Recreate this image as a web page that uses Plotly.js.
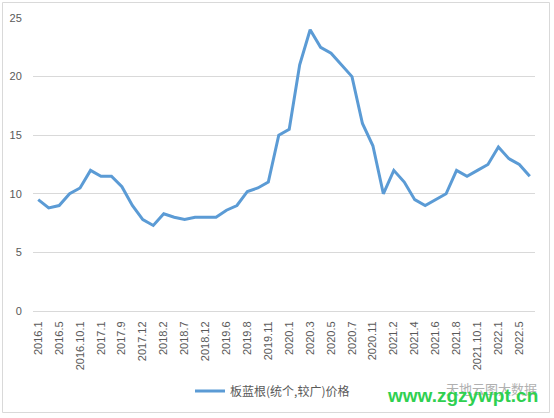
<!DOCTYPE html>
<html>
<head>
<meta charset="utf-8">
<script src="https://cdn.plot.ly/plotly-3.0.1.min.js"></script>
<style>html,body{margin:0;padding:0;background:#fff;}#chart{width:554px;height:418px;}</style>
</head>
<body>
<div id="chart"></div>
<script>
// Categories (every other one is labelled on the axis, as in the reference)
const months = [
  "2016.1","2016.3","2016.5","2016.8","2016.10.1","2016.12","2017.1","2017.5",
  "2017.9","2017.11","2017.12","2018.1","2018.2","2018.5","2018.7","2018.10",
  "2018.12","2019.3","2019.6","2019.7","2019.8","2019.10","2019.11","2019.12",
  "2020.1","2020.2","2020.3","2020.4","2020.5","2020.6","2020.7","2020.9",
  "2020.11","2021.1","2021.2","2021.3","2021.4","2021.5","2021.6","2021.7",
  "2021.8","2021.9","2021.10.1","2021.12","2022.1","2022.3","2022.5","2022.7"
];
const price = [
  9.5, 8.8, 9.0, 10.0, 10.5, 12.0, 11.5, 11.5,
  10.6, 9.0, 7.8, 7.3, 8.3, 8.0, 7.8, 8.0,
  8.0, 8.0, 8.6, 9.0, 10.2, 10.5, 11.0, 15.0,
  15.5, 21.0, 24.0, 22.5, 22.0, 21.0, 20.0, 16.0,
  14.1, 10.0, 12.0, 11.0, 9.5, 9.0, 9.5, 10.0,
  12.0, 11.5, 12.0, 12.5, 14.0, 13.0, 12.5, 11.5
];
const seriesName = "板蓝根(统个,较广)价格";
const yTicks = [0, 5, 10, 15, 20, 25];
const shownLabels = months.filter((m, i) => i % 2 === 0);

const W = 554, H = 418;
const mL = 33, mR = 19, mT = 18, mB = 107;
const pw = W - mL - mR, ph = H - mT - mB;
const px = x => (x - mL) / pw;
const py = y => (H - mB - y) / ph;

const trace = {
  x: months, y: price, type: "scatter", mode: "lines", name: seriesName,
  line: {color: "#5B9BD5", width: 3}
};

const layout = {
  width: W, height: H,
  margin: {l: mL, r: mR, t: mT, b: mB, pad: 0},
  paper_bgcolor: "#fff", plot_bgcolor: "#fff",
  font: {family: "Liberation Sans, Arial, sans-serif", size: 11, color: "#595959"},
  xaxis: {
    type: "category", tickmode: "array", tickvals: shownLabels, ticktext: shownLabels,
    tickangle: -90, showgrid: false, zeroline: false, showline: false,
    ticks: "outside", ticklen: 5, tickcolor: "rgba(0,0,0,0)",
    tickfont: {size: 11, color: "#595959"}, range: [-0.5, months.length - 0.5]
  },
  yaxis: {
    range: [0, 25], tickvals: yTicks, gridcolor: "#d9d9d9", gridwidth: 1,
    zeroline: true, zerolinecolor: "#d9d9d9", zerolinewidth: 1, showline: false,
    ticks: "outside", ticklen: 8, tickcolor: "rgba(0,0,0,0)",
    tickfont: {size: 11, color: "#595959"}
  },
  showlegend: true,
  legend: {
    orientation: "h", x: px(190), xanchor: "left", y: py(391), yanchor: "middle",
    font: {family: "Noto Sans CJK SC, sans-serif", size: 12, color: "#595959"},
    bgcolor: "rgba(0,0,0,0)", itemwidth: 30
  },
  shapes: [{
    type: "rect", xref: "paper", yref: "paper",
    x0: px(2.5), x1: px(549.5), y0: py(412.5), y1: py(2.5),
    line: {color: "#d9d9d9", width: 1}
  }],
  annotations: [
    {xref: "paper", yref: "paper", x: px(491), y: py(388), xanchor: "center", yanchor: "middle",
     text: "天地云图大数据",
     showarrow: false, font: {family: "Noto Sans CJK SC, sans-serif", size: 13, color: "#b0b0b0"}},
    {xref: "paper", yref: "paper", x: px(462), y: py(395), xanchor: "center", yanchor: "middle",
     text: "<b>www.zgzywpt.cn</b>",
     showarrow: false, font: {family: "Liberation Sans, Arial, sans-serif", size: 19, color: "#2fd050"}}
  ]
};

Plotly.newPlot("chart", [trace], layout, {displayModeBar: false, staticPlot: true});
</script>
</body>
</html>
